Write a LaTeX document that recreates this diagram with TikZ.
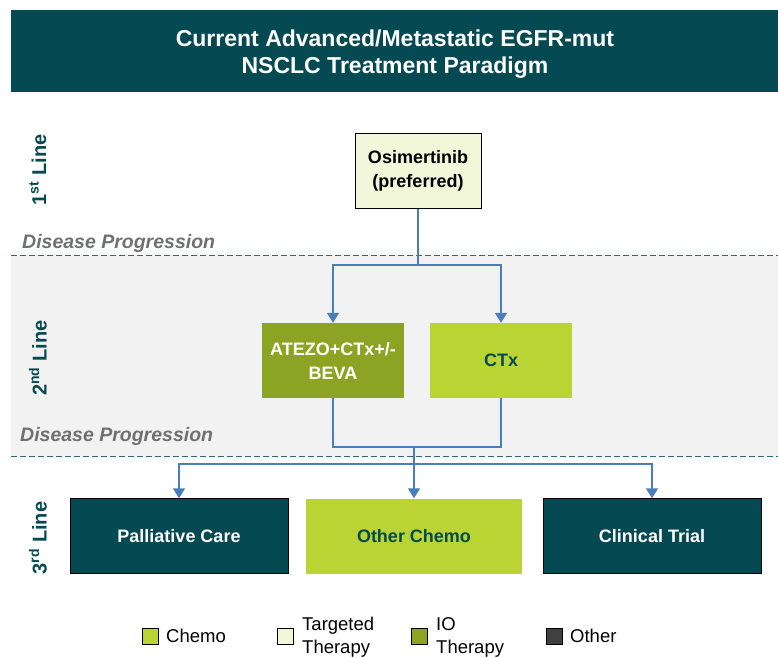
\documentclass[tikz,border=0pt]{standalone}
\usepackage{fontspec}
\setmainfont{Liberation Sans}
\usetikzlibrary{arrows.meta}
\definecolor{darkteal}{RGB}{5,74,82}
\definecolor{bandgray}{RGB}{242,242,242}
\definecolor{iogreen}{RGB}{141,163,35}
\definecolor{chemolime}{RGB}{185,212,51}
\definecolor{targetcream}{RGB}{242,247,218}
\definecolor{flowblue}{RGB}{74,126,187}
\definecolor{dashteal}{RGB}{47,104,115}
\definecolor{progressgray}{RGB}{112,112,112}
\definecolor{othergray}{RGB}{64,64,64}
\tikzset{
  therapy box/.style={minimum height=75pt, inner sep=2pt, align=center, font=\fontsize{18}{24}\selectfont\bfseries},
  targeted box/.style={therapy box, draw=black, fill=targetcream, text=black, minimum width=126pt},
  io box/.style={therapy box, fill=iogreen, text=white, minimum width=142pt},
  chemo box/.style={therapy box, fill=chemolime, text=darkteal, minimum width=142pt},
  other box/.style={therapy box, draw=black, fill=darkteal, text=white, minimum width=218pt},
  line label/.style={rotate=90, text=darkteal, font=\fontsize{20}{24}\selectfont\bfseries},
  progression label/.style={anchor=base west, inner sep=0pt, text=progressgray, font=\fontsize{19.5}{22}\selectfont\bfseries\itshape},
  progression line/.style={thick, dashteal, dash pattern=on 6pt off 3pt},
  flow line/.style={flowblue, line width=1.4pt},
  flow arrow/.style={flow line, -{Triangle[width=12pt, length=10pt]}},
  legend swatch/.style={draw=black, minimum size=16pt, inner sep=0pt},
  legend text/.style={anchor=west, inner sep=0pt, align=left, font=\fontsize{18.5}{23}\selectfont},
}
\begin{document}
\begin{tikzpicture}[x=1pt, y=-1pt]
  \useasboundingbox (0,0) rectangle (778,657);
  % title banner
  \fill[darkteal] (11,10) rectangle (778,92);
  \node[text=white, align=center, font=\fontsize{23}{27}\selectfont\bfseries] (title) at (395,54)
    {Current Advanced/Metastatic EGFR-mut\\NSCLC Treatment Paradigm};
  % 2nd line band and progression lines
  \fill[bandgray] (11,255) rectangle (778,456);
  \draw[progression line] (11,255) -- (778,255);
  \draw[progression line] (11,456) -- (778,456);
  \node[progression label] (prog1) at (22,248) {Disease Progression};
  \node[progression label] (prog2) at (20,441) {Disease Progression};
  % row labels
  \node[line label] (first) at (38,170) {1\textsuperscript{st} Line};
  \node[line label] (second) at (38,358) {2\textsuperscript{nd} Line};
  \node[line label] (third) at (38,538) {3\textsuperscript{rd} Line};
  % therapies
  \node[targeted box] (osi) at (418,171) {Osimertinib\\(preferred)};
  \node[io box] (atezo) at (333,360.5) {ATEZO+CTx+/-\\BEVA};
  \node[chemo box] (ctx) at (501,360.5) {CTx};
  \node[other box] (palliative) at (179,536) {Palliative Care};
  \node[chemo box, minimum width=216pt] (otherchemo) at (414,536) {Other Chemo};
  \node[other box] (trial) at (652,536) {Clinical Trial};
  % connectors
  \coordinate (fork1) at (418,265);
  \draw[flow line] (osi.south) -- (fork1);
  \draw[flow arrow] (fork1) -| (atezo.north);
  \draw[flow arrow] (fork1) -| (ctx.north);
  \coordinate (join2) at (414,447);
  \draw[flow line] (atezo.south) |- (join2) -| (ctx.south);
  \draw[flow arrow] (join2) -- (otherchemo.north);
  \coordinate (fork3) at (414,464);
  \draw[flow arrow] (fork3) -| (palliative.north);
  \draw[flow arrow] (fork3) -| (trial.north);
  % legend
  \node[legend swatch, fill=chemolime] (swchemo) at (150.5,636) {};
  \node[legend text] (lgchemo) at (166,636) {Chemo};
  \node[legend swatch, fill=targetcream] (swtarget) at (285,636) {};
  \node[legend text] (lgtarget) at (302,637) {Targeted\\Therapy};
  \node[legend swatch, fill=iogreen] (swio) at (419,636) {};
  \node[legend text] (lgio) at (436,637) {IO\\Therapy};
  \node[legend swatch, fill=othergray] (swother) at (554,636) {};
  \node[legend text] (lgother) at (570,636) {Other};
\end{tikzpicture}
\end{document}
